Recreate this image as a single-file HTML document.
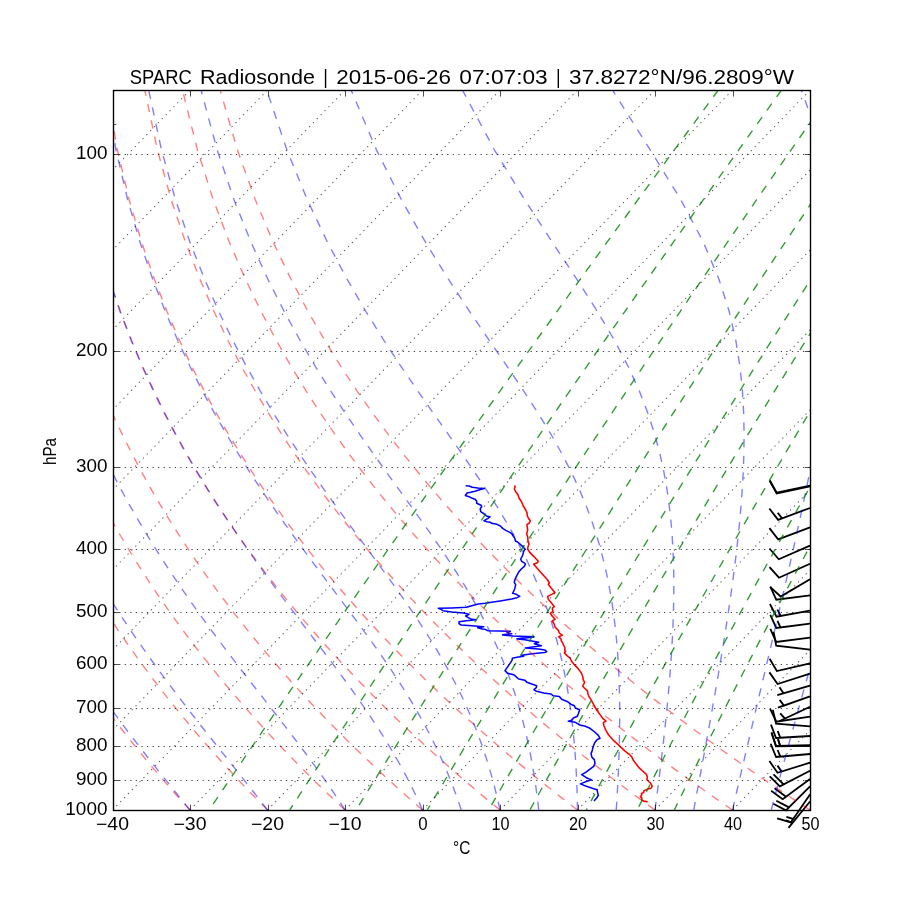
<!DOCTYPE html>
<html lang="en">
<head>
<meta charset="utf-8">
<title>SPARC Radiosonde Skew-T</title>
<style>
html,body{margin:0;padding:0;background:#fff;}
body{width:900px;height:900px;overflow:hidden;font-family:"Liberation Sans",sans-serif;}
svg{display:block;}
</style>
</head>
<body>
<svg width="900" height="900" viewBox="0 0 900 900">
<rect width="900" height="900" fill="#fff"/>
<defs>
<clipPath id="ax"><rect x="113" y="90.5" width="697.5" height="720"/></clipPath>
<clipPath id="bc"><rect x="754.2" y="32.4" width="111.6" height="835.2"/></clipPath>
</defs>
<g clip-path="url(#bc)" fill="#000" stroke="#000" stroke-width="1.8" stroke-linejoin="miter">
<path d="M810 485.7 L776.69 492.66 L769.74 480.2 L776.69 492.66Z"/>
<path d="M810 486.4 L776.72 493.47 L769.73 481.05 L776.72 493.47Z"/>
<path d="M810 508 L778.09 519.81 L769.37 508.52 L778.09 519.81 L782.08 518.33 L777.72 512.68 L782.08 518.33Z"/>
<path d="M810 527.3 L778.19 539.38 L769.38 528.17 L778.19 539.38Z"/>
<path d="M810 545.7 L778.79 559.27 L769.47 548.48 L778.79 559.27Z"/>
<path d="M810 563.7 L778.99 577.7 L769.51 567.05 L778.99 577.7Z"/>
<path d="M810 579.3 L780.65 596.52 L770.09 586.93 L780.65 596.52Z"/>
<path d="M810 595.3 L776.26 599.68 L770.28 586.73 L776.26 599.68Z"/>
<path d="M810 610.7 L776.5 616.67 L769.93 604.01 L776.5 616.67 L780.69 615.92 L777.4 609.59 L780.69 615.92Z"/>
<path d="M810 623.7 L776.24 627.96 L770.31 614.99 L776.24 627.96 L780.46 627.43 L777.5 620.95 L780.46 627.43Z"/>
<path d="M810 637.7 L776.24 641.96 L770.31 628.99 L776.24 641.96Z"/>
<path d="M810 649.7 L776.2 645.73 L773.57 631.72 L776.2 645.73Z"/>
<path d="M810 663.3 L776.86 671.01 L769.63 658.72 L776.86 671.01Z"/>
<path d="M810 673.7 L777.58 684.05 L769.39 672.37 L777.58 684.05Z"/>
<path d="M810 685.7 L777.27 695.02 L783.41 693.27 L779.5 687.31 L783.41 693.27Z"/>
<path d="M810 696.3 L777.94 707.71 L783.95 705.57 L779.67 699.88 L783.95 705.57Z"/>
<path d="M810 706.7 L779.24 721.24 L785 718.52 L780.17 713.27 L785 718.52Z"/>
<path d="M810 716.7 L776.34 721.67 L770.14 708.83 L776.34 721.67Z"/>
<path d="M810 726.3 L776.07 723.75 L772.85 709.86 L776.07 723.75Z"/>
<path d="M810 736 L776.03 738.02 L770.98 724.68 L776.03 738.02 L780.28 737.77 L777.75 731.1 L780.28 737.77Z"/>
<path d="M810 745.2 L775.98 745.91 L771.44 732.39 L775.98 745.91 L780.23 745.82 L777.96 739.06 L780.23 745.82Z"/>
<path d="M810 745.8 L775.97 746.22 L771.56 732.66 L775.97 746.22 L780.23 746.16 L778.02 739.38 L780.23 746.16Z"/>
<path d="M810 754 L776.1 756.97 L770.68 743.78 L776.1 756.97 L780.34 756.6 L777.63 750 L780.34 756.6Z"/>
<path d="M810 762.7 L777.49 772.76 L769.41 761.02 L777.49 772.76 L781.56 771.5 L777.51 765.63 L781.56 771.5Z"/>
<path d="M810 770.7 L779.82 786.41 L769.76 776.3 L779.82 786.41 L783.59 784.45 L773.53 774.34 L783.59 784.45Z"/>
<path d="M810 779 L782.65 799.24 L771.13 790.83 L782.65 799.24 L786.07 796.71 L774.55 788.3 L786.07 796.71Z"/>
<path d="M810 786.3 L785.94 810.36 L773.31 803.74 L785.94 810.36 L788.95 807.35 L776.31 800.74 L788.95 807.35Z"/>
<path d="M810 794.4 L790.78 822.48 L777.14 818.3 L790.78 822.48 L793.18 818.97 L786.36 816.88 L793.18 818.97Z"/>
<path d="M810 801.5 L788.49 827.87 L792.53 822.93 L785.91 820.27 L792.53 822.93Z"/>
</g>
<g clip-path="url(#ax)" fill="none" stroke-width="1.55" stroke-linejoin="round" stroke-linecap="butt">
<path stroke="#f00" d="M514.8 485.33 L515 487.33 L514.33 489 L515.67 491.67 L518 494.67 L519 498 L521.67 502 L523.33 506 L525.67 510 L527 512.67 L527.33 516 L528.33 518 L530.33 521 L529.33 523 L527 524.67 L527.33 527.33 L527.67 530 L526.87 533.33 L526.67 534 L527.67 536.67 L528 540.67 L529 544 L528 546.67 L527.67 549 L529.67 552.33 L533.67 556.33 L538.33 561.33 L537.33 562.67 L533.67 564.33 L536.33 567.33 L540.33 572 L544.33 576.33 L547.67 580 L549.33 583 L548.33 584.33 L550.33 587 L552 589 L555 592.67 L551.67 594.33 L547.67 596.33 L548.33 599.33 L551.67 603.33 L554.33 606.67 L552.33 608.33 L553 611.33 L550.33 613.33 L552.33 616.33 L555 619.33 L552.33 621 L554.33 624.33 L555 627 L558.33 630.33 L559.33 633 L562.33 635.33 L558.67 636.67 L561 639 L561.33 641 L563 643.33 L563 644 L565 648 L564.67 650.33 L565.67 651.33 L564.33 653 L567 655.67 L570 658 L571.67 661.33 L574.33 664.67 L577 667.33 L579.67 670.67 L581.33 673 L582.67 676.33 L583.33 680 L584.67 682.33 L582.67 686 L584.33 688 L587.33 690.67 L588 694 L589 696.67 L591 699.67 L596.67 710 L600 714.67 L602.67 718.33 L606 721 L603.33 722.67 L604 726 L606 730.67 L608.67 735 L613.33 740.33 L618 744.33 L620 746.33 L625.33 751.33 L629.33 754.33 L632 757.33 L633 759.67 L636 763.67 L638.67 767.33 L642.67 771 L646.33 774.33 L647.33 776.67 L647 779.67 L649.33 782 L650.22 782.67 L652.22 786.22 L651.11 788.22 L647.56 789.11 L644 790.67 L643.78 792.22 L641.33 793.56 L641.78 795.11 L640.44 796.67 L642 798.22 L641.56 799.78 L643.56 801.11 L647.78 801.69"/>
<path stroke="#00f" d="M465.67 485.67 L469 486 L472.33 487.33 L477.67 488 L484.33 488.53 L480.33 489.47 L475 491.33 L470.67 492.33 L467 493 L465.33 495.47 L469 496.67 L472.33 498.33 L475 499.33 L476.67 501 L476.67 503.2 L481 505.2 L481.67 506.67 L480.2 508.67 L480.67 511.67 L484.33 514 L486.33 516 L490 516.67 L487.67 518.67 L484 520.67 L487 521.67 L490.33 522.33 L491.67 523.33 L497 524.33 L500.33 526 L503 528.67 L506.33 530.67 L510.33 532.67 L513 534.67 L511.67 533.67 L513.33 536.33 L515 538.67 L515.33 541 L517.67 542 L521.67 545.67 L525 549 L523.67 551.33 L522.67 555.33 L520.67 559 L521.67 561.33 L525 563.33 L525.33 564.33 L524.33 566.33 L521.33 569 L518.67 572 L516.33 576.67 L514.67 580.33 L514.33 582.67 L515.67 584.67 L515 587.67 L514.67 589 L512.67 593.33 L516.33 594.33 L519.67 596.33 L517 597.67 L511.67 599 L501.67 600.67 L491.67 602.33 L485 603.33 L478.33 604 L471.67 605.67 L466.33 607.33 L451.67 608 L438.33 608.33 L441 609.33 L443 610.67 L451.67 612 L463.67 613 L469 614.33 L465.67 616 L468.33 617.67 L471.67 619.33 L476 619.8 L466.33 620.67 L459 621.67 L459 623.67 L461 625 L471.67 625.67 L483.67 626.67 L477.67 627.67 L482.33 629 L485 629.33 L487.67 630.67 L498.33 631 L510.33 631.33 L507 632.33 L511.67 633.67 L502.67 634.87 L513 636 L534 636.87 L517 638.87 L525 639.8 L531.67 641 L538.67 642.2 L534.33 643.8 L541.33 645.8 L525.33 648 L538.33 649 L545 650 L546.67 651.67 L544.33 652.47 L532.33 653.67 L521.67 655.33 L523.67 656.2 L517 657.33 L512.33 658.33 L512 660.33 L509.33 664.33 L505 670.67 L507.67 673.33 L513.67 674.67 L518.67 679 L525 680.33 L527 682.33 L531.67 684 L536.67 685.67 L536.33 687.67 L534 689.67 L535.67 691 L543.67 693 L551 694 L553 695.67 L559.33 696.47 L561.67 699.33 L567.67 701.67 L570.33 704 L574.33 705.67 L575.33 708 L579.67 709.67 L578.33 713.67 L577.33 716.33 L573.33 718 L571.67 720.33 L568.33 721.33 L575.33 722.33 L580 725 L585.33 726.33 L590 728.33 L594.67 732 L598.33 735.33 L600 738.33 L597 739.67 L594.67 742.67 L593 747.33 L592 751.33 L591 753.67 L592 757.33 L594.33 759.67 L595 763.33 L593.67 766.33 L589.67 769.33 L585.67 772.33 L581.67 774.67 L586.33 777.67 L591.67 779.87 L587 781.33 L580.33 783.87 L586.33 786.33 L592.33 788.33 L597 789.67 L597.67 792.67 L598.33 795.33 L596.67 798 L594 801"/>
</g>
<g clip-path="url(#ax)" fill="none" stroke-width="1.39" stroke-dasharray="8.33 8.33">
<g stroke="#f00" stroke-opacity="0.5">
<path d="M112.5 810 L107.98 804.6 L103.42 799.09 L98.83 793.47 L94.2 787.74 L89.54 781.9 L84.84 775.93 L80.11 769.83 L75.34 763.6 L70.54 757.23 L65.7 750.72 L60.82 744.05 L55.9 737.23 L50.94 730.23 L45.94 723.06 L40.9 715.71 L35.82 708.16 L30.7 700.4 L25.54 692.43 L20.34 684.23 L15.09 675.79 L9.81 667.08 L4.48 658.11 L-0.89 648.84 L-6.3 639.26 L-11.75 629.35 L-17.24 619.08 L-22.77 608.42 L-28.33 597.36 L-33.93 585.84 L-39.56 573.84 L-45.22 561.32 L-50.9 548.21 L-56.59 534.48 L-62.3 520.05 L-68 504.85 L-73.69 488.8 L-79.35 471.79 L-84.96 453.69 L-90.49 434.37 L-95.9 413.65 L-101.16 391.3 L-106.18 367.04 L-110.89 340.53 L-115.17 311.3 L-118.82 278.73 L-121.59 241.95 L-123.05 199.71 L-122.54 150.1 L-118.83 90"/>
<path d="M190 810 L185.06 804.6 L180.08 799.09 L175.05 793.47 L169.99 787.74 L164.89 781.9 L159.74 775.93 L154.55 769.83 L149.32 763.6 L144.05 757.23 L138.73 750.72 L133.36 744.05 L127.94 737.23 L122.48 730.23 L116.97 723.06 L111.41 715.71 L105.8 708.16 L100.14 700.4 L94.43 692.43 L88.66 684.23 L82.84 675.79 L76.97 667.08 L71.04 658.11 L65.05 648.84 L59.01 639.26 L52.92 629.35 L46.76 619.08 L40.56 608.42 L34.29 597.36 L27.97 585.84 L21.6 573.84 L15.18 561.32 L8.72 548.21 L2.21 534.48 L-4.34 520.05 L-10.92 504.85 L-17.52 488.8 L-24.13 471.79 L-30.73 453.69 L-37.3 434.37 L-43.81 413.65 L-50.22 391.3 L-56.47 367.04 L-62.48 340.53 L-68.15 311.3 L-73.31 278.73 L-77.73 241.95 L-81.01 199.71 L-82.54 150.1 L-81.17 90"/>
<path d="M267.5 810 L262.14 804.6 L256.73 799.09 L251.28 793.47 L245.78 787.74 L240.24 781.9 L234.64 775.93 L229 769.83 L223.3 763.6 L217.56 757.23 L211.76 750.72 L205.9 744.05 L199.99 737.23 L194.03 730.23 L188.01 723.06 L181.92 715.71 L175.78 708.16 L169.58 700.4 L163.31 692.43 L156.98 684.23 L150.59 675.79 L144.12 667.08 L137.59 658.11 L130.99 648.84 L124.32 639.26 L117.58 629.35 L110.77 619.08 L103.88 608.42 L96.92 597.36 L89.88 585.84 L82.77 573.84 L75.59 561.32 L68.33 548.21 L61 534.48 L53.61 520.05 L46.16 504.85 L38.64 488.8 L31.08 471.79 L23.49 453.69 L15.88 434.37 L8.28 413.65 L0.72 391.3 L-6.75 367.04 L-14.07 340.53 L-21.14 311.3 L-27.81 278.73 L-33.87 241.95 L-38.97 199.71 L-42.54 150.1 L-43.51 90"/>
<path d="M345 810 L339.22 804.6 L333.39 799.09 L327.51 793.47 L321.57 787.74 L315.58 781.9 L309.54 775.93 L303.44 769.83 L297.28 763.6 L291.06 757.23 L284.79 750.72 L278.45 744.05 L272.04 737.23 L265.57 730.23 L259.04 723.06 L252.43 715.71 L245.76 708.16 L239.02 700.4 L232.2 692.43 L225.3 684.23 L218.33 675.79 L211.28 667.08 L204.15 658.11 L196.93 648.84 L189.63 639.26 L182.24 629.35 L174.77 619.08 L167.2 608.42 L159.54 597.36 L151.79 585.84 L143.94 573.84 L135.99 561.32 L127.95 548.21 L119.8 534.48 L111.57 520.05 L103.23 504.85 L94.81 488.8 L86.3 471.79 L77.72 453.69 L69.07 434.37 L60.37 413.65 L51.66 391.3 L42.96 367.04 L34.34 340.53 L25.88 311.3 L17.69 278.73 L9.99 241.95 L3.06 199.71 L-2.54 150.1 L-5.85 90"/>
<path d="M422.5 810 L416.3 804.6 L410.05 799.09 L403.73 793.47 L397.36 787.74 L390.93 781.9 L384.44 775.93 L377.88 769.83 L371.26 763.6 L364.57 757.23 L357.81 750.72 L350.99 744.05 L344.09 737.23 L337.12 730.23 L330.07 723.06 L322.95 715.71 L315.74 708.16 L308.45 700.4 L301.08 692.43 L293.62 684.23 L286.08 675.79 L278.44 667.08 L270.7 658.11 L262.87 648.84 L254.94 639.26 L246.91 629.35 L238.77 619.08 L230.52 608.42 L222.16 597.36 L213.69 585.84 L205.1 573.84 L196.39 561.32 L187.56 548.21 L178.6 534.48 L169.52 520.05 L160.31 504.85 L150.98 488.8 L141.52 471.79 L131.94 453.69 L122.25 434.37 L112.47 413.65 L102.6 391.3 L92.68 367.04 L82.75 340.53 L72.89 311.3 L63.2 278.73 L53.84 241.95 L45.1 199.71 L37.46 150.1 L31.81 90"/>
<path d="M500 810 L493.38 804.6 L486.7 799.09 L479.96 793.47 L473.15 787.74 L466.28 781.9 L459.34 775.93 L452.32 769.83 L445.24 763.6 L438.08 757.23 L430.84 750.72 L423.53 744.05 L416.14 737.23 L408.66 730.23 L401.1 723.06 L393.46 715.71 L385.72 708.16 L377.89 700.4 L369.97 692.43 L361.95 684.23 L353.82 675.79 L345.59 667.08 L337.26 658.11 L328.81 648.84 L320.25 639.26 L311.57 629.35 L302.77 619.08 L293.85 608.42 L284.79 597.36 L275.6 585.84 L266.27 573.84 L256.79 561.32 L247.17 548.21 L237.4 534.48 L227.48 520.05 L217.39 504.85 L207.15 488.8 L196.74 471.79 L186.17 453.69 L175.44 434.37 L164.56 413.65 L153.54 391.3 L142.39 367.04 L131.16 340.53 L119.9 311.3 L108.7 278.73 L97.7 241.95 L87.14 199.71 L77.46 150.1 L69.48 90"/>
<path d="M577.5 810 L570.46 804.6 L563.36 799.09 L556.19 793.47 L548.94 787.74 L541.63 781.9 L534.23 775.93 L526.76 769.83 L519.22 763.6 L511.59 757.23 L503.87 750.72 L496.07 744.05 L488.19 737.23 L480.21 730.23 L472.14 723.06 L463.97 715.71 L455.7 708.16 L447.33 700.4 L438.85 692.43 L430.27 684.23 L421.57 675.79 L412.75 667.08 L403.81 658.11 L394.75 648.84 L385.56 639.26 L376.24 629.35 L366.78 619.08 L357.17 608.42 L347.41 597.36 L337.5 585.84 L327.43 573.84 L317.2 561.32 L306.79 548.21 L296.2 534.48 L285.43 520.05 L274.47 504.85 L263.32 488.8 L251.96 471.79 L240.4 453.69 L228.63 434.37 L216.65 413.65 L204.47 391.3 L192.11 367.04 L179.58 340.53 L166.92 311.3 L154.21 278.73 L141.56 241.95 L129.18 199.71 L117.46 150.1 L107.14 90"/>
<path d="M655 810 L647.55 804.6 L640.02 799.09 L632.41 793.47 L624.73 787.74 L616.97 781.9 L609.13 775.93 L601.21 769.83 L593.19 763.6 L585.09 757.23 L576.9 750.72 L568.62 744.05 L560.24 737.23 L551.75 730.23 L543.17 723.06 L534.48 715.71 L525.68 708.16 L516.77 700.4 L507.74 692.43 L498.59 684.23 L489.31 675.79 L479.91 667.08 L470.37 658.11 L460.69 648.84 L450.87 639.26 L440.9 629.35 L430.78 619.08 L420.49 608.42 L410.04 597.36 L399.41 585.84 L388.6 573.84 L377.6 561.32 L366.4 548.21 L355 534.48 L343.39 520.05 L331.55 504.85 L319.48 488.8 L307.18 471.79 L294.62 453.69 L281.81 434.37 L268.74 413.65 L255.41 391.3 L241.82 367.04 L227.99 340.53 L213.93 311.3 L199.71 278.73 L185.41 241.95 L171.22 199.71 L157.46 150.1 L144.8 90"/>
<path d="M732.5 810 L724.63 804.6 L716.67 799.09 L708.64 793.47 L700.52 787.74 L692.32 781.9 L684.03 775.93 L675.65 769.83 L667.17 763.6 L658.6 757.23 L649.93 750.72 L641.16 744.05 L632.28 737.23 L623.3 730.23 L614.2 723.06 L604.99 715.71 L595.66 708.16 L586.2 700.4 L576.62 692.43 L566.91 684.23 L557.06 675.79 L547.07 667.08 L536.93 658.11 L526.63 648.84 L516.18 639.26 L505.57 629.35 L494.78 619.08 L483.81 608.42 L472.66 597.36 L461.31 585.84 L449.76 573.84 L438 561.32 L426.02 548.21 L413.8 534.48 L401.34 520.05 L388.63 504.85 L375.65 488.8 L362.39 471.79 L348.85 453.69 L335 434.37 L320.84 413.65 L306.35 391.3 L291.54 367.04 L276.4 340.53 L260.95 311.3 L245.21 278.73 L229.27 241.95 L213.26 199.71 L197.46 150.1 L182.46 90"/>
<path d="M810 810 L801.71 804.6 L793.33 799.09 L784.87 793.47 L776.31 787.74 L767.67 781.9 L758.93 775.93 L750.09 769.83 L741.15 763.6 L732.11 757.23 L722.96 750.72 L713.7 744.05 L704.33 737.23 L694.84 730.23 L685.24 723.06 L675.5 715.71 L665.64 708.16 L655.64 700.4 L645.51 692.43 L635.23 684.23 L624.8 675.79 L614.22 667.08 L603.48 658.11 L592.57 648.84 L581.49 639.26 L570.23 629.35 L558.78 619.08 L547.14 608.42 L535.29 597.36 L523.22 585.84 L510.93 573.84 L498.4 561.32 L485.63 548.21 L472.6 534.48 L459.3 520.05 L445.71 504.85 L431.82 488.8 L417.61 471.79 L403.07 453.69 L388.19 434.37 L372.93 413.65 L357.29 391.3 L341.26 367.04 L324.81 340.53 L307.96 311.3 L290.72 278.73 L273.13 241.95 L255.3 199.71 L237.46 150.1 L220.12 90"/>
</g>
<g stroke="#00f" stroke-opacity="0.5">
<path d="M112.5 810 L108.2 804.6 L103.85 799.09 L99.44 793.47 L94.99 787.74 L90.48 781.9 L85.92 775.93 L81.31 769.83 L76.65 763.6 L71.94 757.23 L67.19 750.72 L62.38 744.05 L57.52 737.23 L52.62 730.23 L47.67 723.06 L42.66 715.71 L37.62 708.16 L32.52 700.4 L27.38 692.43 L22.19 684.23 L16.95 675.79 L11.67 667.08 L6.34 658.11 L0.96 648.84 L-4.45 639.26 L-9.91 629.35 L-15.42 619.08 L-20.96 608.42 L-26.54 597.36 L-32.15 585.84 L-37.8 573.84 L-43.48 561.32 L-49.18 548.21 L-54.9 534.48 L-60.63 520.05 L-66.36 504.85 L-72.07 488.8 L-77.76 471.79 L-83.4 453.69 L-88.96 434.37 L-94.4 413.65 L-99.69 391.3 L-104.75 367.04 L-109.5 340.53 L-113.81 311.3 L-117.51 278.73 L-120.32 241.95 L-121.84 199.71 L-121.38 150.1 L-117.75 90"/>
<path d="M190 810 L185.61 804.6 L181.14 799.09 L176.6 793.47 L171.97 787.74 L167.27 781.9 L162.49 775.93 L157.63 769.83 L152.7 763.6 L147.69 757.23 L142.61 750.72 L137.45 744.05 L132.22 737.23 L126.92 730.23 L121.55 723.06 L116.1 715.71 L110.59 708.16 L105.01 700.4 L99.35 692.43 L93.63 684.23 L87.84 675.79 L81.99 667.08 L76.07 658.11 L70.08 648.84 L64.03 639.26 L57.91 629.35 L51.73 619.08 L45.49 608.42 L39.19 597.36 L32.83 585.84 L26.41 573.84 L19.94 561.32 L13.41 548.21 L6.84 534.48 L0.23 520.05 L-6.42 504.85 L-13.09 488.8 L-19.77 471.79 L-26.45 453.69 L-33.1 434.37 L-39.7 413.65 L-46.2 391.3 L-52.54 367.04 L-58.66 340.53 L-64.44 311.3 L-69.72 278.73 L-74.27 241.95 L-77.69 199.71 L-79.38 150.1 L-78.2 90"/>
<path d="M267.5 810 L263.35 804.6 L259.09 799.09 L254.71 793.47 L250.22 787.74 L245.61 781.9 L240.89 775.93 L236.05 769.83 L231.09 763.6 L226.02 757.23 L220.83 750.72 L215.53 744.05 L210.12 737.23 L204.59 730.23 L198.95 723.06 L193.2 715.71 L187.35 708.16 L181.38 700.4 L175.31 692.43 L169.14 684.23 L162.86 675.79 L156.49 667.08 L150.01 658.11 L143.44 648.84 L136.77 639.26 L130 629.35 L123.14 619.08 L116.19 608.42 L109.15 597.36 L102.01 585.84 L94.79 573.84 L87.48 561.32 L80.09 548.21 L72.62 534.48 L65.07 520.05 L57.45 504.85 L49.76 488.8 L42.02 471.79 L34.23 453.69 L26.42 434.37 L18.6 413.65 L10.81 391.3 L3.1 367.04 L-4.48 340.53 L-11.82 311.3 L-18.8 278.73 L-25.18 241.95 L-30.65 199.71 L-34.61 150.1 L-36.05 90"/>
<path d="M345 810 L341.53 804.6 L337.91 799.09 L334.16 793.47 L330.27 787.74 L326.23 781.9 L322.03 775.93 L317.68 769.83 L313.16 763.6 L308.49 757.23 L303.65 750.72 L298.64 744.05 L293.46 737.23 L288.1 730.23 L282.58 723.06 L276.88 715.71 L271.01 708.16 L264.97 700.4 L258.76 692.43 L252.38 684.23 L245.83 675.79 L239.11 667.08 L232.23 658.11 L225.2 648.84 L218.01 639.26 L210.66 629.35 L203.17 619.08 L195.53 608.42 L187.74 597.36 L179.82 585.84 L171.76 573.84 L163.56 561.32 L155.23 548.21 L146.77 534.48 L138.19 520.05 L129.49 504.85 L120.67 488.8 L111.74 471.79 L102.71 453.69 L93.58 434.37 L84.39 413.65 L75.15 391.3 L65.89 367.04 L56.66 340.53 L47.56 311.3 L38.68 278.73 L30.21 241.95 L22.45 199.71 L15.91 150.1 L11.52 90"/>
<path d="M422.5 810 L420.09 804.6 L417.56 799.09 L414.91 793.47 L412.11 787.74 L409.17 781.9 L406.07 775.93 L402.81 769.83 L399.39 763.6 L395.78 757.23 L391.98 750.72 L387.99 744.05 L383.78 737.23 L379.36 730.23 L374.71 723.06 L369.83 715.71 L364.7 708.16 L359.33 700.4 L353.69 692.43 L347.79 684.23 L341.63 675.79 L335.19 667.08 L328.47 658.11 L321.48 648.84 L314.22 639.26 L306.68 629.35 L298.88 619.08 L290.81 608.42 L282.48 597.36 L273.9 585.84 L265.08 573.84 L256.02 561.32 L246.73 548.21 L237.22 534.48 L227.49 520.05 L217.55 504.85 L207.41 488.8 L197.08 471.79 L186.55 453.69 L175.85 434.37 L164.98 413.65 L153.97 391.3 L142.82 367.04 L131.58 340.53 L120.31 311.3 L109.1 278.73 L98.08 241.95 L87.51 199.71 L77.81 150.1 L69.8 90"/>
<path d="M461.25 810 L459.45 804.6 L457.56 799.09 L455.55 793.47 L453.42 787.74 L451.17 781.9 L448.79 775.93 L446.26 769.83 L443.58 763.6 L440.74 757.23 L437.72 750.72 L434.51 744.05 L431.11 737.23 L427.5 730.23 L423.66 723.06 L419.58 715.71 L415.25 708.16 L410.66 700.4 L405.78 692.43 L400.6 684.23 L395.12 675.79 L389.31 667.08 L383.17 658.11 L376.69 648.84 L369.86 639.26 L362.67 629.35 L355.11 619.08 L347.2 608.42 L338.93 597.36 L330.3 585.84 L321.32 573.84 L312 561.32 L302.36 548.21 L292.39 534.48 L282.11 520.05 L271.55 504.85 L260.69 488.8 L249.57 471.79 L238.18 453.69 L226.55 434.37 L214.67 413.65 L202.58 391.3 L190.28 367.04 L177.81 340.53 L165.21 311.3 L152.55 278.73 L139.96 241.95 L127.65 199.71 L116.01 150.1 L105.77 90"/>
<path d="M500 810 L498.81 804.6 L497.55 799.09 L496.2 793.47 L494.76 787.74 L493.23 781.9 L491.59 775.93 L489.84 769.83 L487.97 763.6 L485.96 757.23 L483.82 750.72 L481.52 744.05 L479.05 737.23 L476.4 730.23 L473.56 723.06 L470.51 715.71 L467.22 708.16 L463.7 700.4 L459.9 692.43 L455.82 684.23 L451.42 675.79 L446.7 667.08 L441.62 658.11 L436.16 648.84 L430.29 639.26 L424.01 629.35 L417.28 619.08 L410.08 608.42 L402.41 597.36 L394.25 585.84 L385.6 573.84 L376.45 561.32 L366.81 548.21 L356.69 534.48 L346.1 520.05 L335.06 504.85 L323.59 488.8 L311.71 471.79 L299.43 453.69 L286.78 434.37 L273.78 413.65 L260.45 391.3 L246.81 367.04 L232.88 340.53 L218.7 311.3 L204.34 278.73 L189.88 241.95 L175.5 199.71 L161.53 150.1 L148.63 90"/>
<path d="M538.75 810 L538.14 804.6 L537.47 799.09 L536.75 793.47 L535.97 787.74 L535.13 781.9 L534.21 775.93 L533.21 769.83 L532.13 763.6 L530.96 757.23 L529.69 750.72 L528.3 744.05 L526.8 737.23 L525.16 730.23 L523.38 723.06 L521.44 715.71 L519.33 708.16 L517.02 700.4 L514.5 692.43 L511.74 684.23 L508.73 675.79 L505.44 667.08 L501.83 658.11 L497.88 648.84 L493.55 639.26 L488.8 629.35 L483.6 619.08 L477.91 608.42 L471.68 597.36 L464.87 585.84 L457.44 573.84 L449.36 561.32 L440.6 548.21 L431.14 534.48 L420.96 520.05 L410.07 504.85 L398.48 488.8 L386.2 471.79 L373.27 453.69 L359.72 434.37 L345.6 413.65 L330.93 391.3 L315.76 367.04 L300.13 340.53 L284.07 311.3 L267.63 278.73 L250.89 241.95 L233.99 199.71 L217.19 150.1 L201.03 90"/>
<path d="M577.5 810 L577.4 804.6 L577.28 799.09 L577.12 793.47 L576.93 787.74 L576.71 781.9 L576.44 775.93 L576.13 769.83 L575.77 763.6 L575.35 757.23 L574.88 750.72 L574.34 744.05 L573.73 737.23 L573.04 730.23 L572.25 723.06 L571.37 715.71 L570.38 708.16 L569.27 700.4 L568.01 692.43 L566.61 684.23 L565.03 675.79 L563.25 667.08 L561.26 658.11 L559.02 648.84 L556.5 639.26 L553.67 629.35 L550.48 619.08 L546.89 608.42 L542.84 597.36 L538.28 585.84 L533.13 573.84 L527.33 561.32 L520.79 548.21 L513.43 534.48 L505.18 520.05 L495.95 504.85 L485.69 488.8 L474.34 471.79 L461.88 453.69 L448.31 434.37 L433.68 413.65 L418.03 391.3 L401.45 367.04 L384.01 340.53 L365.79 311.3 L346.86 278.73 L327.33 241.95 L307.28 199.71 L286.94 150.1 L266.71 90"/>
<path d="M616.25 810 L616.6 804.6 L616.93 799.09 L617.26 793.47 L617.58 787.74 L617.88 781.9 L618.17 775.93 L618.45 769.83 L618.7 763.6 L618.94 757.23 L619.15 750.72 L619.33 744.05 L619.48 737.23 L619.59 730.23 L619.67 723.06 L619.7 715.71 L619.68 708.16 L619.59 700.4 L619.45 692.43 L619.22 684.23 L618.9 675.79 L618.49 667.08 L617.96 658.11 L617.29 648.84 L616.47 639.26 L615.48 629.35 L614.28 619.08 L612.83 608.42 L611.11 597.36 L609.06 585.84 L606.63 573.84 L603.75 561.32 L600.33 548.21 L596.28 534.48 L591.49 520.05 L585.81 504.85 L579.11 488.8 L571.2 471.79 L561.89 453.69 L551.01 434.37 L538.4 413.65 L523.93 391.3 L507.58 367.04 L489.39 340.53 L469.5 311.3 L448.07 278.73 L425.3 241.95 L401.4 199.71 L376.56 150.1 L351.11 90"/>
<path d="M655 810 L655.71 804.6 L656.43 799.09 L657.16 793.47 L657.9 787.74 L658.64 781.9 L659.38 775.93 L660.14 769.83 L660.89 763.6 L661.65 757.23 L662.42 750.72 L663.18 744.05 L663.95 737.23 L664.72 730.23 L665.48 723.06 L666.24 715.71 L666.99 708.16 L667.74 700.4 L668.47 692.43 L669.19 684.23 L669.88 675.79 L670.55 667.08 L671.18 658.11 L671.78 648.84 L672.32 639.26 L672.8 629.35 L673.21 619.08 L673.53 608.42 L673.74 597.36 L673.82 585.84 L673.73 573.84 L673.44 561.32 L672.9 548.21 L672.06 534.48 L670.85 520.05 L669.16 504.85 L666.88 488.8 L663.86 471.79 L659.89 453.69 L654.73 434.37 L648.05 413.65 L639.45 391.3 L628.46 367.04 L614.56 340.53 L597.31 311.3 L576.48 278.73 L552.12 241.95 L524.62 199.71 L494.53 150.1 L462.42 90"/>
<path d="M693.75 810 L694.76 804.6 L695.79 799.09 L696.83 793.47 L697.9 787.74 L698.99 781.9 L700.1 775.93 L701.23 769.83 L702.38 763.6 L703.55 757.23 L704.75 750.72 L705.97 744.05 L707.21 737.23 L708.48 730.23 L709.78 723.06 L711.1 715.71 L712.44 708.16 L713.82 700.4 L715.21 692.43 L716.64 684.23 L718.09 675.79 L719.56 667.08 L721.06 658.11 L722.59 648.84 L724.14 639.26 L725.7 629.35 L727.29 619.08 L728.89 608.42 L730.5 597.36 L732.11 585.84 L733.72 573.84 L735.31 561.32 L736.87 548.21 L738.38 534.48 L739.81 520.05 L741.13 504.85 L742.29 488.8 L743.24 471.79 L743.88 453.69 L744.09 434.37 L743.7 413.65 L742.46 391.3 L740.02 367.04 L735.85 340.53 L729.16 311.3 L718.8 278.73 L703.24 241.95 L680.78 199.71 L650.35 150.1 L612.46 90"/>
<path d="M732.5 810 L733.74 804.6 L735.01 799.09 L736.3 793.47 L737.62 787.74 L738.98 781.9 L740.37 775.93 L741.78 769.83 L743.24 763.6 L744.73 757.23 L746.25 750.72 L747.82 744.05 L749.42 737.23 L751.07 730.23 L752.76 723.06 L754.49 715.71 L756.27 708.16 L758.11 700.4 L759.99 692.43 L761.93 684.23 L763.93 675.79 L765.98 667.08 L768.1 658.11 L770.29 648.84 L772.54 639.26 L774.87 629.35 L777.27 619.08 L779.76 608.42 L782.33 597.36 L784.98 585.84 L787.73 573.84 L790.57 561.32 L793.51 548.21 L796.56 534.48 L799.71 520.05 L802.97 504.85 L806.33 488.8 L809.79 471.79 L813.34 453.69 L816.97 434.37 L820.64 413.65 L824.29 391.3 L827.85 367.04 L831.16 340.53 L833.97 311.3 L835.82 278.73 L835.9 241.95 L832.65 199.71 L823.01 150.1 L801.28 90"/>
<path d="M771.25 810 L772.66 804.6 L774.11 799.09 L775.59 793.47 L777.11 787.74 L778.66 781.9 L780.26 775.93 L781.89 769.83 L783.57 763.6 L785.29 757.23 L787.05 750.72 L788.87 744.05 L790.74 737.23 L792.66 730.23 L794.63 723.06 L796.67 715.71 L798.77 708.16 L800.93 700.4 L803.16 692.43 L805.47 684.23 L807.85 675.79 L810.31 667.08 L812.86 658.11 L815.51 648.84 L818.25 639.26 L821.1 629.35 L824.05 619.08 L827.13 608.42 L830.34 597.36 L833.69 585.84 L837.18 573.84 L840.84 561.32 L844.67 548.21 L848.69 534.48 L852.91 520.05 L857.37 504.85 L862.07 488.8 L867.04 471.79 L872.31 453.69 L877.91 434.37 L883.88 413.65 L890.25 391.3 L897.07 367.04 L904.39 340.53 L912.24 311.3 L920.65 278.73 L929.61 241.95 L938.96 199.71 L948.21 150.1 L955.85 90"/>
<path d="M810 810 L811.54 804.6 L813.12 799.09 L814.73 793.47 L816.39 787.74 L818.09 781.9 L819.83 775.93 L821.62 769.83 L823.46 763.6 L825.34 757.23 L827.28 750.72 L829.28 744.05 L831.33 737.23 L833.44 730.23 L835.62 723.06 L837.87 715.71 L840.18 708.16 L842.57 700.4 L845.05 692.43 L847.6 684.23 L850.25 675.79 L852.99 667.08 L855.84 658.11 L858.79 648.84 L861.86 639.26 L865.06 629.35 L868.38 619.08 L871.86 608.42 L875.48 597.36 L879.28 585.84 L883.26 573.84 L887.43 561.32 L891.83 548.21 L896.46 534.48 L901.36 520.05 L906.55 504.85 L912.06 488.8 L917.93 471.79 L924.21 453.69 L930.96 434.37 L938.23 413.65 L946.11 391.3 L954.69 367.04 L964.11 340.53 L974.52 311.3 L986.12 278.73 L999.19 241.95 L1014.11 199.71 L1031.37 150.1 L1051.68 90"/>
</g>
<g stroke="#008000" stroke-opacity="0.8">
<path d="M718.33 90 L674.19 150.1 L637.96 199.71 L607.26 241.95 L580.63 278.73 L557.15 311.3 L536.15 340.53 L517.16 367.04 L499.84 391.3 L483.92 413.65 L469.2 434.37 L455.51 453.69 L442.72 471.79 L430.72 488.8 L419.41 504.85 L408.73 520.05 L398.61 534.48 L389 548.21 L379.84 561.32 L371.1 573.84 L362.75 585.84 L354.74 597.36 L347.05 608.42 L339.67 619.08 L332.56 629.35 L325.7 639.26 L319.09 648.84 L312.7 658.11 L306.51 667.08 L300.53 675.79 L294.73 684.23 L289.1 692.43 L283.63 700.4 L278.32 708.16 L273.16 715.71 L268.13 723.06 L263.24 730.23 L258.47 737.23 L253.82 744.05 L249.29 750.72 L244.86 757.23 L240.53 763.6 L236.31 769.83 L232.17 775.93 L228.13 781.9 L224.18 787.74 L220.3 793.47 L216.51 799.09 L212.79 804.6 L209.15 810"/>
<path d="M781.47 90 L738.56 150.1 L703.37 199.71 L673.58 241.95 L647.76 278.73 L625 311.3 L604.66 340.53 L586.28 367.04 L569.52 391.3 L554.13 413.65 L539.9 434.37 L526.68 453.69 L514.32 471.79 L502.74 488.8 L491.83 504.85 L481.53 520.05 L471.77 534.48 L462.5 548.21 L453.68 561.32 L445.26 573.84 L437.21 585.84 L429.5 597.36 L422.1 608.42 L415 619.08 L408.16 629.35 L401.56 639.26 L395.2 648.84 L389.06 658.11 L383.12 667.08 L377.37 675.79 L371.79 684.23 L366.39 692.43 L361.14 700.4 L356.05 708.16 L351.09 715.71 L346.27 723.06 L341.58 730.23 L337 737.23 L332.54 744.05 L328.19 750.72 L323.95 757.23 L319.81 763.6 L315.76 769.83 L311.8 775.93 L307.93 781.9 L304.14 787.74 L300.43 793.47 L296.8 799.09 L293.24 804.6 L289.75 810"/>
<path d="M832.85 90 L790.98 150.1 L756.68 199.71 L727.65 241.95 L702.52 278.73 L680.37 311.3 L660.59 340.53 L642.73 367.04 L626.45 391.3 L611.5 413.65 L597.69 434.37 L584.86 453.69 L572.88 471.79 L561.65 488.8 L551.08 504.85 L541.1 520.05 L531.65 534.48 L522.67 548.21 L514.13 561.32 L505.99 573.84 L498.2 585.84 L490.75 597.36 L483.59 608.42 L476.72 619.08 L470.11 629.35 L463.75 639.26 L457.6 648.84 L451.67 658.11 L445.94 667.08 L440.39 675.79 L435.01 684.23 L429.8 692.43 L424.74 700.4 L419.82 708.16 L415.04 715.71 L410.4 723.06 L405.87 730.23 L401.47 737.23 L397.17 744.05 L392.98 750.72 L388.9 757.23 L384.91 763.6 L381.01 769.83 L377.2 775.93 L373.47 781.9 L369.83 787.74 L366.26 793.47 L362.77 799.09 L359.35 804.6 L355.99 810"/>
<path d="M887.64 90 L846.91 150.1 L813.58 199.71 L785.4 241.95 L761.02 278.73 L739.55 311.3 L720.39 340.53 L703.1 367.04 L687.35 391.3 L672.9 413.65 L659.55 434.37 L647.16 453.69 L635.59 471.79 L624.75 488.8 L614.55 504.85 L604.93 520.05 L595.82 534.48 L587.18 548.21 L578.95 561.32 L571.11 573.84 L563.62 585.84 L556.44 597.36 L549.57 608.42 L542.96 619.08 L536.61 629.35 L530.49 639.26 L524.59 648.84 L518.89 658.11 L513.39 667.08 L508.06 675.79 L502.9 684.23 L497.9 692.43 L493.05 700.4 L488.34 708.16 L483.76 715.71 L479.3 723.06 L474.97 730.23 L470.75 737.23 L466.64 744.05 L462.63 750.72 L458.72 757.23 L454.9 763.6 L451.17 769.83 L447.53 775.93 L443.96 781.9 L440.48 787.74 L437.07 793.47 L433.73 799.09 L430.46 804.6 L427.26 810"/>
<path d="M934.49 90 L894.77 150.1 L862.3 199.71 L834.87 241.95 L811.15 278.73 L790.29 311.3 L771.68 340.53 L754.89 367.04 L739.61 391.3 L725.6 413.65 L712.66 434.37 L700.66 453.69 L689.46 471.79 L678.97 488.8 L669.1 504.85 L659.8 520.05 L650.99 534.48 L642.64 548.21 L634.69 561.32 L627.12 573.84 L619.89 585.84 L612.97 597.36 L606.33 608.42 L599.96 619.08 L593.84 629.35 L587.94 639.26 L582.26 648.84 L576.77 658.11 L571.47 667.08 L566.34 675.79 L561.38 684.23 L556.57 692.43 L551.9 700.4 L547.37 708.16 L542.97 715.71 L538.69 723.06 L534.52 730.23 L530.47 737.23 L526.52 744.05 L522.67 750.72 L518.92 757.23 L515.25 763.6 L511.67 769.83 L508.18 775.93 L504.76 781.9 L501.42 787.74 L498.15 793.47 L494.95 799.09 L491.82 804.6 L488.75 810"/>
<path d="M965.6 90 L926.58 150.1 L894.68 199.71 L867.76 241.95 L844.51 278.73 L824.05 311.3 L805.82 340.53 L789.37 367.04 L774.42 391.3 L760.7 413.65 L748.05 434.37 L736.3 453.69 L725.35 471.79 L715.1 488.8 L705.46 504.85 L696.38 520.05 L687.78 534.48 L679.62 548.21 L671.87 561.32 L664.48 573.84 L657.43 585.84 L650.68 597.36 L644.21 608.42 L638 619.08 L632.04 629.35 L626.29 639.26 L620.76 648.84 L615.41 658.11 L610.25 667.08 L605.26 675.79 L600.43 684.23 L595.75 692.43 L591.21 700.4 L586.8 708.16 L582.52 715.71 L578.36 723.06 L574.31 730.23 L570.37 737.23 L566.53 744.05 L562.79 750.72 L559.15 757.23 L555.59 763.6 L552.11 769.83 L548.72 775.93 L545.4 781.9 L542.16 787.74 L538.99 793.47 L535.88 799.09 L532.85 804.6 L529.87 810"/>
<path d="M1008.09 90 L970.02 150.1 L938.94 199.71 L912.73 241.95 L890.11 278.73 L870.23 311.3 L852.52 340.53 L836.56 367.04 L822.05 391.3 L808.75 413.65 L796.49 434.37 L785.12 453.69 L774.52 471.79 L764.6 488.8 L755.28 504.85 L746.5 520.05 L738.19 534.48 L730.32 548.21 L722.83 561.32 L715.71 573.84 L708.9 585.84 L702.39 597.36 L696.16 608.42 L690.18 619.08 L684.43 629.35 L678.9 639.26 L673.57 648.84 L668.43 658.11 L663.47 667.08 L658.67 675.79 L654.02 684.23 L649.52 692.43 L645.16 700.4 L640.93 708.16 L636.82 715.71 L632.83 723.06 L628.94 730.23 L625.16 737.23 L621.48 744.05 L617.89 750.72 L614.4 757.23 L610.99 763.6 L607.66 769.83 L604.41 775.93 L601.23 781.9 L598.13 787.74 L595.09 793.47 L592.12 799.09 L589.21 804.6 L586.37 810"/>
<path d="M1046.02 90 L1008.83 150.1 L978.5 199.71 L952.94 241.95 L930.9 278.73 L911.55 311.3 L894.31 340.53 L878.8 367.04 L864.7 391.3 L851.79 413.65 L839.89 434.37 L828.85 453.69 L818.58 471.79 L808.97 488.8 L799.94 504.85 L791.43 520.05 L783.39 534.48 L775.78 548.21 L768.54 561.32 L761.65 573.84 L755.07 585.84 L748.79 597.36 L742.77 608.42 L737 619.08 L731.45 629.35 L726.12 639.26 L720.98 648.84 L716.03 658.11 L711.24 667.08 L706.62 675.79 L702.15 684.23 L697.82 692.43 L693.62 700.4 L689.55 708.16 L685.59 715.71 L681.75 723.06 L678.02 730.23 L674.39 737.23 L670.85 744.05 L667.41 750.72 L664.05 757.23 L660.78 763.6 L657.58 769.83 L654.47 775.93 L651.42 781.9 L648.44 787.74 L645.53 793.47 L642.69 799.09 L639.9 804.6 L637.17 810"/>
<path d="M1073.58 90 L1037.04 150.1 L1007.26 199.71 L982.19 241.95 L960.58 278.73 L941.61 311.3 L924.73 340.53 L909.55 367.04 L895.75 391.3 L883.13 413.65 L871.49 434.37 L860.71 453.69 L850.68 471.79 L841.29 488.8 L832.48 504.85 L824.18 520.05 L816.35 534.48 L808.92 548.21 L801.87 561.32 L795.15 573.84 L788.75 585.84 L782.63 597.36 L776.77 608.42 L771.15 619.08 L765.76 629.35 L760.57 639.26 L755.57 648.84 L750.76 658.11 L746.11 667.08 L741.62 675.79 L737.27 684.23 L733.07 692.43 L728.99 700.4 L725.04 708.16 L721.21 715.71 L717.48 723.06 L713.86 730.23 L710.34 737.23 L706.91 744.05 L703.57 750.72 L700.32 757.23 L697.15 763.6 L694.05 769.83 L691.03 775.93 L688.08 781.9 L685.2 787.74 L682.39 793.47 L679.63 799.09 L676.94 804.6 L674.3 810"/>
</g>
</g>
<g clip-path="url(#ax)" fill="none" stroke="#000" stroke-width="0.9" stroke-linecap="round" stroke-dasharray="0.45 5.11" stroke-dashoffset="-0.47">
<path stroke-width="1.03" stroke-opacity="0.66" d="M-585 810 L112.5 90"/>
<path stroke-width="1.03" stroke-opacity="0.66" d="M-507.5 810 L190 90"/>
<path stroke-width="1.03" stroke-opacity="0.66" d="M-430 810 L267.5 90"/>
<path stroke-width="1.03" stroke-opacity="0.66" d="M-352.5 810 L345 90"/>
<path stroke-width="1.03" stroke-opacity="0.66" d="M-275 810 L422.5 90"/>
<path stroke-width="1.03" stroke-opacity="0.66" d="M-197.5 810 L500 90"/>
<path stroke-width="1.03" stroke-opacity="0.66" d="M-120 810 L577.5 90"/>
<path stroke-width="1.03" stroke-opacity="0.66" d="M-42.5 810 L655 90"/>
<path stroke-width="1.03" stroke-opacity="0.66" d="M35 810 L732.5 90"/>
<path stroke-width="1.03" stroke-opacity="0.66" d="M112.5 810 L810 90"/>
<path stroke-width="1.03" stroke-opacity="0.66" d="M190 810 L887.5 90"/>
<path stroke-width="1.03" stroke-opacity="0.66" d="M267.5 810 L965 90"/>
<path stroke-width="1.03" stroke-opacity="0.66" d="M345 810 L1042.5 90"/>
<path stroke-width="1.03" stroke-opacity="0.66" d="M422.5 810 L1120 90"/>
<path stroke-width="1.03" stroke-opacity="0.66" d="M500 810 L1197.5 90"/>
<path stroke-width="1.03" stroke-opacity="0.66" d="M577.5 810 L1275 90"/>
<path stroke-width="1.03" stroke-opacity="0.66" d="M655 810 L1352.5 90"/>
<path stroke-width="1.03" stroke-opacity="0.66" d="M732.5 810 L1430 90"/>
<path stroke-width="1.03" stroke-opacity="0.66" d="M810 810 L1507.5 90"/>
<path stroke-opacity="0.85" d="M113.5 154.5 L810.5 154.5"/>
<path stroke-opacity="0.85" d="M113.5 351.5 L810.5 351.5"/>
<path stroke-opacity="0.85" d="M113.5 467.5 L810.5 467.5"/>
<path stroke-opacity="0.85" d="M113.5 549.5 L810.5 549.5"/>
<path stroke-opacity="0.85" d="M113.5 612.5 L810.5 612.5"/>
<path stroke-opacity="0.85" d="M113.5 664.5 L810.5 664.5"/>
<path stroke-opacity="0.85" d="M113.5 708.5 L810.5 708.5"/>
<path stroke-opacity="0.85" d="M113.5 746.5 L810.5 746.5"/>
<path stroke-opacity="0.85" d="M113.5 780.5 L810.5 780.5"/>
<path stroke-opacity="0.85" d="M113.5 810.5 L810.5 810.5"/>
</g>
<g fill="none" stroke="#000" stroke-width="0.69">
<path d="M113.5 810.2 V804.64"/>
<path d="M113.5 91 V96.56"/>
<path d="M190.5 810.2 V804.64"/>
<path d="M190.5 91 V96.56"/>
<path d="M268.5 810.2 V804.64"/>
<path d="M268.5 91 V96.56"/>
<path d="M345.5 810.2 V804.64"/>
<path d="M345.5 91 V96.56"/>
<path d="M423.5 810.2 V804.64"/>
<path d="M423.5 91 V96.56"/>
<path d="M500.5 810.2 V804.64"/>
<path d="M500.5 91 V96.56"/>
<path d="M578.5 810.2 V804.64"/>
<path d="M578.5 91 V96.56"/>
<path d="M655.5 810.2 V804.64"/>
<path d="M655.5 91 V96.56"/>
<path d="M733.5 810.2 V804.64"/>
<path d="M733.5 91 V96.56"/>
<path d="M810.5 810.2 V804.64"/>
<path d="M810.5 91 V96.56"/>
<path d="M113.5 154.5 H119.06"/>
<path d="M810.5 154.5 H804.94"/>
<path d="M113.5 351.5 H119.06"/>
<path d="M810.5 351.5 H804.94"/>
<path d="M113.5 467.5 H119.06"/>
<path d="M810.5 467.5 H804.94"/>
<path d="M113.5 549.5 H119.06"/>
<path d="M810.5 549.5 H804.94"/>
<path d="M113.5 612.5 H119.06"/>
<path d="M810.5 612.5 H804.94"/>
<path d="M113.5 664.5 H119.06"/>
<path d="M810.5 664.5 H804.94"/>
<path d="M113.5 708.5 H119.06"/>
<path d="M810.5 708.5 H804.94"/>
<path d="M113.5 746.5 H119.06"/>
<path d="M810.5 746.5 H804.94"/>
<path d="M113.5 780.5 H119.06"/>
<path d="M810.5 780.5 H804.94"/>
<path d="M113.5 810.5 H119.06"/>
<path d="M810.5 810.5 H804.94"/>
<path d="M113.5 124.5 H116.28"/>
<path d="M810.5 124.5 H807.72"/>
</g>
<rect x="113.5" y="90.5" width="697" height="720" fill="none" stroke="#000" stroke-width="1.39"/>
<g fill="#000" opacity="0.999" font-family="'Liberation Sans', sans-serif">
<text y="83.5" font-size="20.4"><tspan x="129.72" textLength="62" lengthAdjust="spacingAndGlyphs">SPARC</tspan> <tspan x="200.1" textLength="114.75" lengthAdjust="spacingAndGlyphs">Radiosonde</tspan> <tspan x="323.22" textLength="4.62" lengthAdjust="spacingAndGlyphs">|</tspan> <tspan x="336.22" textLength="114.75" lengthAdjust="spacingAndGlyphs">2015-06-26</tspan> <tspan x="459.35" textLength="88.38" lengthAdjust="spacingAndGlyphs">07:07:03</tspan> <tspan x="556.1" textLength="4.62" lengthAdjust="spacingAndGlyphs">|</tspan> <tspan x="569.1" textLength="224.88" lengthAdjust="spacingAndGlyphs">37.8272°N/96.2809°W</tspan></text>
<text x="75.95" y="158.85" font-size="17.8" text-anchor="start" textLength="31.5" lengthAdjust="spacingAndGlyphs">100</text>
<text x="75.95" y="355.85" font-size="17.8" text-anchor="start" textLength="31.5" lengthAdjust="spacingAndGlyphs">200</text>
<text x="75.95" y="471.85" font-size="17.8" text-anchor="start" textLength="31.5" lengthAdjust="spacingAndGlyphs">300</text>
<text x="75.95" y="553.85" font-size="17.8" text-anchor="start" textLength="31.5" lengthAdjust="spacingAndGlyphs">400</text>
<text x="75.95" y="616.85" font-size="17.8" text-anchor="start" textLength="31.5" lengthAdjust="spacingAndGlyphs">500</text>
<text x="75.95" y="668.85" font-size="17.8" text-anchor="start" textLength="31.5" lengthAdjust="spacingAndGlyphs">600</text>
<text x="75.95" y="712.85" font-size="17.8" text-anchor="start" textLength="31.5" lengthAdjust="spacingAndGlyphs">700</text>
<text x="75.95" y="750.85" font-size="17.8" text-anchor="start" textLength="31.5" lengthAdjust="spacingAndGlyphs">800</text>
<text x="75.95" y="784.85" font-size="17.8" text-anchor="start" textLength="31.5" lengthAdjust="spacingAndGlyphs">900</text>
<text x="65.35" y="814.85" font-size="17.8" text-anchor="start" textLength="42.1" lengthAdjust="spacingAndGlyphs">1000</text>
<text x="96" y="830" font-size="17.8" text-anchor="start" textLength="33" lengthAdjust="spacingAndGlyphs">−40</text>
<text x="173.5" y="830" font-size="17.8" text-anchor="start" textLength="33" lengthAdjust="spacingAndGlyphs">−30</text>
<text x="251" y="830" font-size="17.8" text-anchor="start" textLength="33" lengthAdjust="spacingAndGlyphs">−20</text>
<text x="328.5" y="830" font-size="17.8" text-anchor="start" textLength="33" lengthAdjust="spacingAndGlyphs">−10</text>
<text x="418.2" y="830" font-size="17.8" text-anchor="start" textLength="9.4" lengthAdjust="spacingAndGlyphs">0</text>
<text x="491.4" y="830" font-size="17.8" text-anchor="start" textLength="18" lengthAdjust="spacingAndGlyphs">10</text>
<text x="568.9" y="830" font-size="17.8" text-anchor="start" textLength="18" lengthAdjust="spacingAndGlyphs">20</text>
<text x="646.4" y="830" font-size="17.8" text-anchor="start" textLength="18" lengthAdjust="spacingAndGlyphs">30</text>
<text x="723.9" y="830" font-size="17.8" text-anchor="start" textLength="18" lengthAdjust="spacingAndGlyphs">40</text>
<text x="801.4" y="830" font-size="17.8" text-anchor="start" textLength="18" lengthAdjust="spacingAndGlyphs">50</text>
<text x="453" y="853.6" font-size="17.8" text-anchor="start" textLength="17.3" lengthAdjust="spacingAndGlyphs">°C</text>
<text x="56" y="465" font-size="18.8" text-anchor="start" textLength="27" lengthAdjust="spacingAndGlyphs" transform="rotate(-90 56 465)">hPa</text>
</g>
</svg>
</body>
</html>
